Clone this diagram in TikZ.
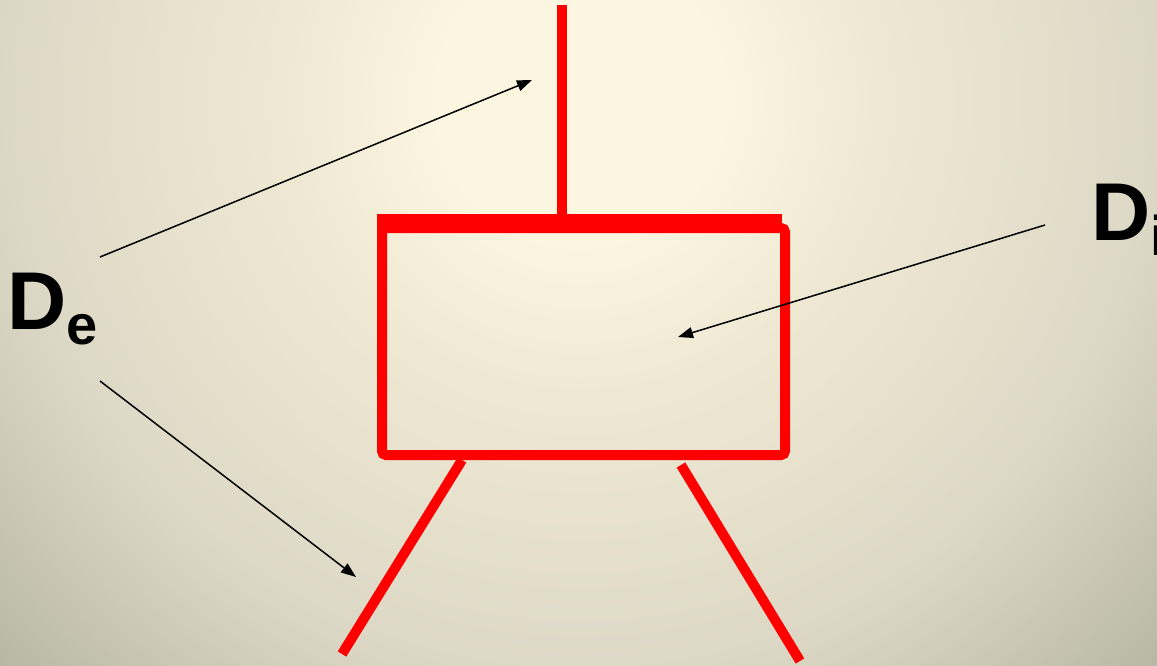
\documentclass[tikz,border=0pt]{standalone}
\usepackage{fontspec}
\setmainfont{Liberation Sans}
\usetikzlibrary{arrows.meta}
\definecolor{redline}{RGB}{255,0,0}
\definecolor{bgA}{RGB}{252,246,225}
\definecolor{bgB}{RGB}{238,232,211}
\definecolor{bgC}{RGB}{221,216,197}
\definecolor{bgD}{RGB}{184,183,165}
\definecolor{bgE}{RGB}{176,176,158}
\pgfdeclareradialshading{bgshade}{\pgfpoint{0bp}{0bp}}{%
  color(0bp)=(bgA); color(4bp)=(bgA); color(8.5bp)=(bgB); color(16bp)=(bgC); color(22.5bp)=(bgD); color(25bp)=(bgE); color(50bp)=(bgE)}
\tikzset{
  redbar/.style={draw=redline, line width=10pt},
  pointer/.style={draw=black, line width=1.5pt, -{Triangle[length=15pt,width=11pt]}},
  label/.style={inner sep=0pt, anchor=base west, font=\fontsize{82}{82}\bfseries\selectfont}
}
\newcommand{\subtxt}[1]{\raisebox{-15pt}{\fontsize{56}{56}\bfseries\selectfont #1}}
\begin{document}
\begin{tikzpicture}[x=1pt,y=-1pt]
\useasboundingbox (0,0) rectangle (1157,665);
\clip (0,0) rectangle (1157,665);
\shade[shading=bgshade] (580,100) circle (900);
% coordinates
\coordinate (stemtop) at (562,5);
\coordinate (stembot) at (562,216);
\coordinate (ltop) at (462,460);
\coordinate (lbot) at (342,654);
\coordinate (rtop) at (681,465);
\coordinate (rbot) at (800,661);
\coordinate (a1s) at (100,257);
\coordinate (a1e) at (532,80);
\coordinate (a2s) at (100,381);
\coordinate (a2e) at (356,577);
\coordinate (a3s) at (1045,225);
\coordinate (a3e) at (678,337);
% red shapes
\draw[redbar] (stemtop) -- (stembot);
\draw[redbar, rounded corners=4pt] (382,228) rectangle (785,455);
\fill[redline] (377,214) rectangle (782,233);
\draw[redbar] (ltop) -- (lbot);
\draw[redbar] (rtop) -- (rbot);
% labels
\node[label] (De) at (7,329) {D\subtxt{e}};
\node[label] (Di) at (1091,240) {D\subtxt{i}};
% arrows
\draw[pointer] (a1s) -- (a1e);
\draw[pointer] (a2s) -- (a2e);
\draw[pointer] (a3s) -- (a3e);
\end{tikzpicture}
\end{document}
